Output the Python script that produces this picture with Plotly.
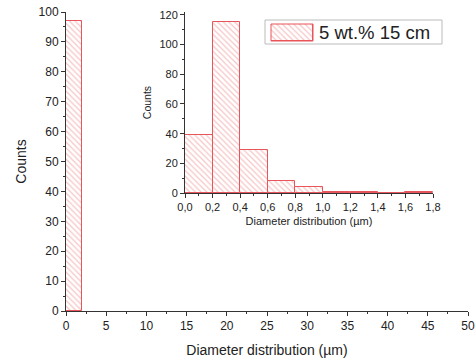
import plotly.graph_objects as go

# Main histogram (bin width 2 µm)
main_bin_centers = [1]
main_counts = [97]
main_bin_width = 2

# Inset histogram (bin width 0.2 µm)
inset_bin_centers = [0.1, 0.3, 0.5, 0.7, 0.9, 1.1, 1.3, 1.5, 1.7]
inset_counts = [39, 115, 29, 8, 4, 1, 1, 0, 1]
inset_bin_width = 0.2

series_name = "5 wt.% 15 cm"

RED = "#e8555a"
PAT = "#ee8a8c"

marker = dict(color="white", line=dict(color=RED, width=1),
              pattern=dict(shape="\\", fgcolor=PAT, bgcolor="white", size=4, solidity=0.3))

fig = go.Figure()
fig.add_trace(go.Bar(x=main_bin_centers, y=main_counts, width=main_bin_width,
                     marker=marker, name=series_name, showlegend=False,
                     xaxis="x", yaxis="y"))
fig.add_trace(go.Bar(x=inset_bin_centers, y=inset_counts, width=inset_bin_width,
                     marker=marker, name=series_name, showlegend=False,
                     xaxis="x2", yaxis="y2"))
# legend swatch (drawn on a hidden axis pair)
fig.add_trace(go.Bar(x=[0], y=[1], width=1, marker=marker, showlegend=False,
                     hoverinfo="skip", cliponaxis=False, xaxis="x3", yaxis="y3"))

font = "Liberation Sans, Arial, sans-serif"
axcommon = dict(showgrid=False, zeroline=False, showline=True, linecolor="#333",
                linewidth=1, ticks="outside", ticklen=4, tickcolor="#333",
                automargin=False,
                tickfont=dict(family=font, color="#222"))

L, R, T, B = 66, 8, 12, 51
W, H = 476, 362
pw, ph = W - L - R, H - T - B
px = lambda x: (x - L) / pw
py = lambda y: (H - B - y) / ph

fig.update_layout(
    width=W, height=H,
    margin=dict(l=L, r=R, t=T, b=B, autoexpand=False),
    plot_bgcolor="white", paper_bgcolor="white",
    separators=",.",
    bargap=0,
    showlegend=False,
    font=dict(family=font, color="#222"),
    xaxis=dict(**axcommon, range=[0, 50], dtick=5, tick0=0,
               minor=dict(ticks="outside", ticklen=2, dtick=2.5, tickcolor="#333"),
               title=dict(text="Diameter distribution (µm)", font=dict(size=14), standoff=12),
               domain=[0, 1], anchor="y"),
    yaxis=dict(**axcommon, range=[0, 100], dtick=10,
               minor=dict(ticks="outside", ticklen=2, dtick=5, tickcolor="#333"),
               title=dict(text="Counts", font=dict(size=14), standoff=8),
               domain=[0, 1], anchor="x"),
    xaxis2=dict(**axcommon, range=[0, 1.8], dtick=0.2, tick0=0, tickformat=".1f",
                minor=dict(ticks="outside", ticklen=2, dtick=0.1, tickcolor="#333"),
                title=dict(text="Diameter distribution (µm)", font=dict(size=11), standoff=5),
                domain=[px(185), px(433)], anchor="y2"),
    yaxis2=dict(**axcommon, range=[0, 122], dtick=20,
                minor=dict(ticks="outside", ticklen=2, dtick=10, tickcolor="#333"),
                title=dict(text="Counts", font=dict(size=10.5), standoff=5),
                domain=[py(193), 1.0], anchor="x2"),
    xaxis3=dict(visible=False, range=[-0.5, 0.5], domain=[px(271), px(313)], anchor="y3", fixedrange=True),
    yaxis3=dict(visible=False, range=[0, 1], domain=[py(41), py(24)], anchor="x3", fixedrange=True),
    shapes=[dict(type="rect", xref="paper", yref="paper", x0=px(265), x1=px(442),
                 y0=py(44), y1=py(20), line=dict(color="#bbb", width=1),
                 fillcolor="rgba(0,0,0,0)", layer="above"),
            dict(type="rect", xref="paper", yref="paper", x0=px(271), x1=px(313),
                 y0=py(41), y1=py(24), line=dict(color=RED, width=1),
                 fillcolor="rgba(0,0,0,0)", layer="above")],
    annotations=[dict(text=series_name, xref="paper", yref="paper", x=px(317), y=py(32.5),
                      xanchor="left", yanchor="middle", showarrow=False,
                      font=dict(size=18.5, family=font, color="#222"))],
)
fig.update_xaxes(tickfont_size=12, selector=dict(anchor="y"))
fig.update_yaxes(tickfont_size=12, selector=dict(anchor="x"))
fig.update_xaxes(tickfont_size=11, selector=dict(anchor="y2"))
fig.update_yaxes(tickfont_size=11, selector=dict(anchor="x2"))

fig.write_html("out.html")
